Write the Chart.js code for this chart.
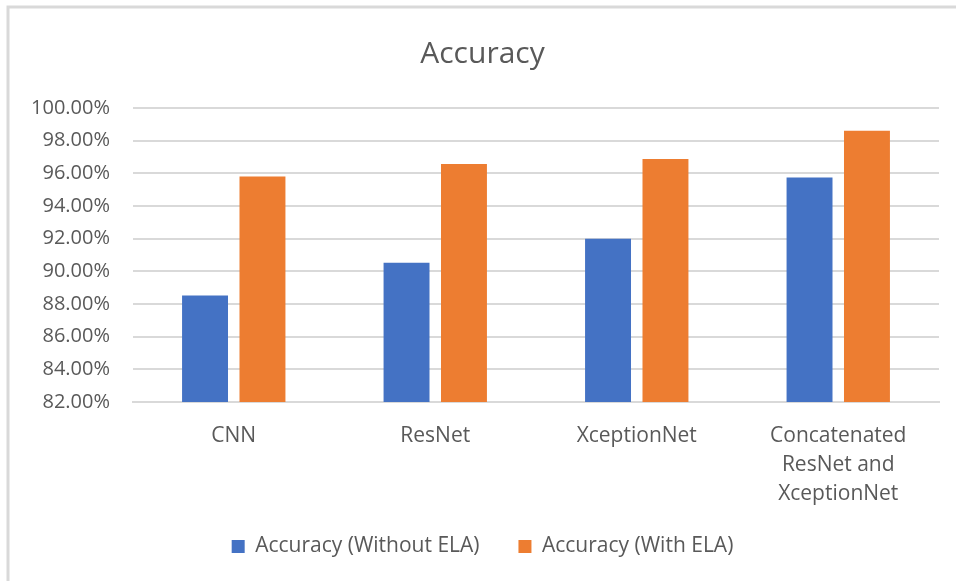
<!DOCTYPE html>
<html>
<head>
<meta charset="utf-8">
<script src="https://cdn.jsdelivr.net/npm/chart.js@4/dist/chart.umd.min.js"></script>
<style>
  html, body { margin: 0; padding: 0; background: #fff; }
  #wrap { width: 956px; height: 581px; }
</style>
</head>
<body>
<div id="wrap"><canvas id="accChart" width="956" height="581"></canvas></div>
<script>
// Données du graphique
const categories = ['CNN', 'ResNet', 'XceptionNet', ['Concatenated', 'ResNet and', 'XceptionNet']];
const withoutELA = [88.52, 90.52, 91.99, 95.75];
const withELA = [95.81, 96.57, 96.88, 98.61];
const seriesNames = ['Accuracy (Without ELA)', 'Accuracy (With ELA)'];
const yMin = 82;
const yMax = 100;
const yStep = 2;

const textColor = '#595959';
const fontFamily = "'Open Sans', Lato, sans-serif";

// Cadre gris en haut et à gauche
const framePlugin = {
  id: 'frame',
  beforeDraw(chart) {
    const ctx = chart.ctx;
    ctx.save();
    ctx.fillStyle = '#ffffff';
    ctx.fillRect(0, 0, chart.width, chart.height);
    ctx.strokeStyle = '#d9d9d9';
    ctx.lineWidth = 3;
    ctx.beginPath();
    ctx.moveTo(8, chart.height);
    ctx.lineTo(8, 7);
    ctx.lineTo(chart.width, 7);
    ctx.stroke();
    ctx.restore();
  }
};

// Légende : un peu plus d'espace après le premier élément
function legendLabels(chart) {
  const items = Chart.defaults.plugins.legend.labels.generateLabels(chart);
  items.forEach((item, i) => {
    if (i < items.length - 1) item.text += '  ';
  });
  return items;
}

new Chart(document.getElementById('accChart'), {
  type: 'bar',
  data: {
    labels: categories,
    datasets: [{
      label: seriesNames[0],
      data: withoutELA,
      backgroundColor: '#4472c4',
      categoryPercentage: 0.57,
      barPercentage: 0.8
    }, {
      label: seriesNames[1],
      data: withELA,
      backgroundColor: '#ed7d31',
      categoryPercentage: 0.57,
      barPercentage: 0.8
    }]
  },
  options: {
    responsive: false,
    animation: false,
    layout: {
      padding: { left: 26, right: 17, top: 0, bottom: 14 }
    },
    plugins: {
      title: {
        display: true,
        text: 'Accuracy',
        color: textColor,
        font: { family: fontFamily, size: 30, weight: 'normal', lineHeight: 1.2 },
        padding: { top: 36, bottom: 36 }
      },
      legend: {
        position: 'bottom',
        labels: {
          color: textColor,
          font: { family: fontFamily, size: 21 },
          boxWidth: 13,
          boxHeight: 13,
          padding: 28,
          generateLabels: legendLabels
        }
      },
      tooltip: { enabled: false }
    },
    scales: {
      y: {
        min: yMin,
        max: yMax,
        ticks: {
          stepSize: yStep,
          color: textColor,
          padding: 23,
          font: { family: fontFamily, size: 20 },
          callback: v => v.toFixed(2) + '%'
        },
        grid: { color: '#d9d9d9', lineWidth: 2, drawTicks: false },
        border: { display: false },
        afterFit(scale) { scale.width = 107; }
      },
      x: {
        ticks: {
          color: textColor,
          padding: 12,
          maxRotation: 0,
          autoSkip: false,
          font: { family: fontFamily, size: 21, lineHeight: 1.38 }
        },
        grid: { display: false },
        border: { color: '#d9d9d9', width: 2 },
        afterFit(scale) { scale.height = 106; }
      }
    }
  },
  plugins: [framePlugin]
});
</script>
</body>
</html>
